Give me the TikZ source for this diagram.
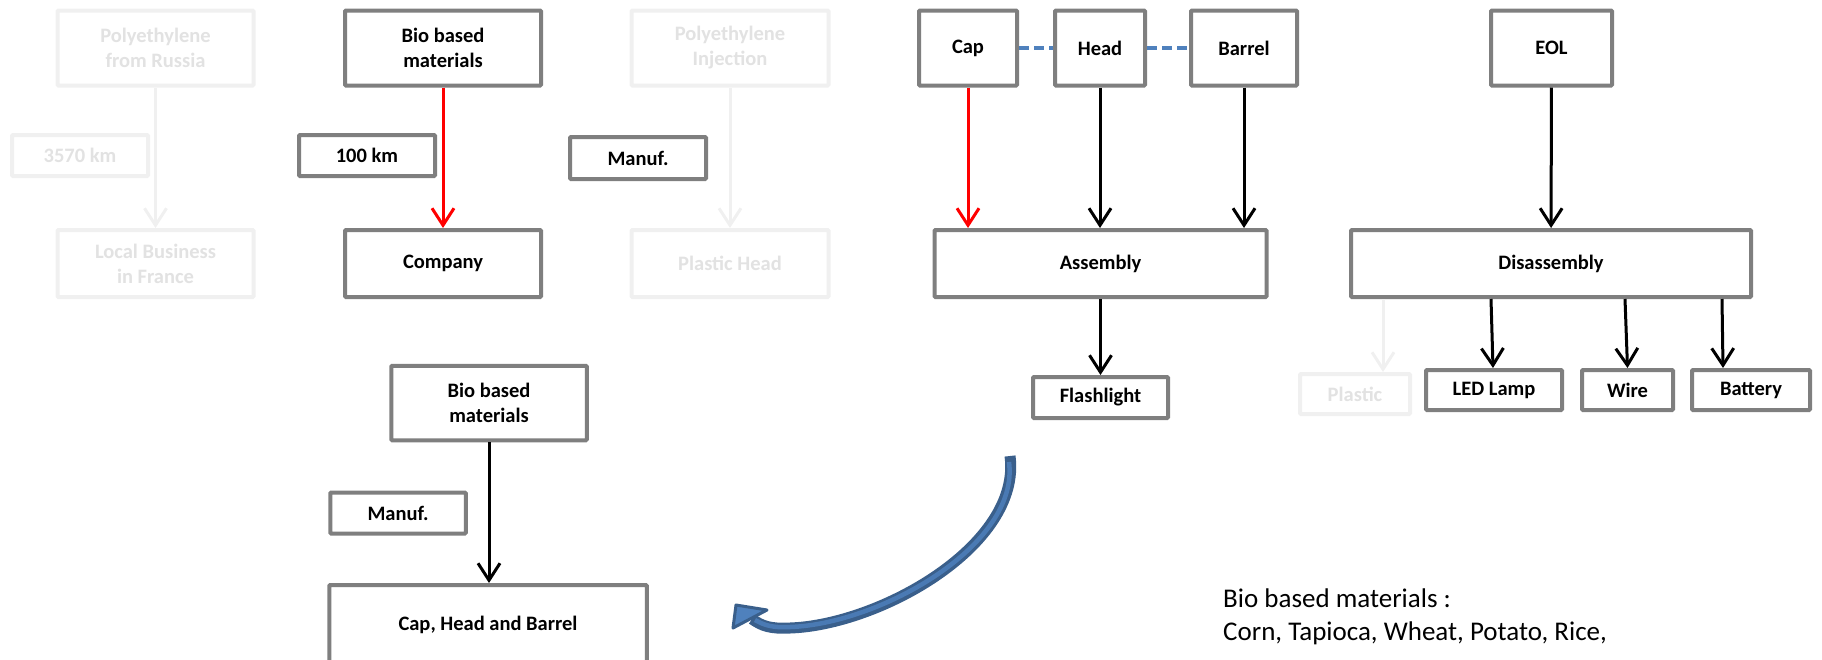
\documentclass[tikz,border=0pt]{standalone}
\usepackage{fontspec}
\setmainfont{Carlito}
\usetikzlibrary{arrows.meta,calc}

\definecolor{boxgray}{HTML}{7F7F7F}
\definecolor{faintline}{HTML}{F0F0F0}
\definecolor{fainttext}{HTML}{E2E2E2}
\definecolor{linkblue}{HTML}{4F81BD}
\definecolor{arcdark}{HTML}{3A5F8B}
\definecolor{arclight}{HTML}{4A7AB4}
\definecolor{flowred}{HTML}{FF0000}

\tikzset{
  box/.style={draw=boxgray, line width=4pt, fill=white, rounded corners=1pt,
    inner sep=0pt, align=center, text=black,
    font=\fontsize{20.5}{25}\selectfont\bfseries},
  faintbox/.style={box, draw=faintline, text=fainttext},
  arr/.style={line width=3pt, draw=black,
    -{Straight Barb[length=17pt,width=22pt,line width=3pt]}},
  redarr/.style={arr, draw=flowred},
  faintarr/.style={arr, draw=faintline},
  link/.style={draw=linkblue, line width=3.3pt, dash pattern=on 10pt off 5pt},
  note/.style={anchor=base west, inner sep=0pt, font=\fontsize{27}{33}\selectfont}
}

\begin{document}
\begin{tikzpicture}[x=1pt, y=-1pt]
\useasboundingbox (0,0) rectangle (1822,659);

% --- polyethylene route (greyed out)
\node[faintbox, minimum width=196, minimum height=75] (rus) at (155.5,48) {Polyethylene\\from Russia};
\node[faintbox, minimum width=136, minimum height=41] (km3570) at (80,155.5) {3570 km};
\node[faintbox, minimum width=196, minimum height=67] (lbf) at (155.5,263.5) {Local Business\\in France};
\draw[faintarr] (rus) -- (lbf);

% --- bio based route
\node[box, minimum width=196, minimum height=75] (bio) at (443,48) {Bio based\\materials};
\node[box, minimum width=136, minimum height=41] (km100) at (367,155.5) {100 km};
\node[box, minimum width=196, minimum height=67] (comp) at (443,263.5) {Company};
\draw[redarr] (bio) -- (comp);

% --- injection (greyed out)
\node[faintbox, minimum width=197, minimum height=75] (inj) at (730,48) {Polyethylene\\Injection};
\node[box, minimum width=136, minimum height=42] (manuf) at (638,158) {Manuf.};
\node[faintbox, minimum width=197, minimum height=67] (phead) at (730,263.5) {Plastic Head};
\draw[faintarr] (inj) -- (phead);

% --- assembly
\node[box, minimum width=98, minimum height=75] (cap) at (968,48) {Cap};
\node[box, minimum width=90, minimum height=75] (head) at (1100,48) {Head};
\node[box, minimum width=106, minimum height=75] (barrel) at (1244,48) {Barrel};
\draw[link] (cap.east) -- (head.west);
\draw[link] (head.east) -- (barrel.west);
\node[box, minimum width=332, minimum height=67] (asm) at (1100.5,263.5) {Assembly};
\node[box, minimum width=135, minimum height=41] (flash) at (1100.5,397.5) {Flashlight};
\draw[redarr] (cap.south) -- (cap.south |- asm.north);
\draw[arr] (head.south) -- (head.south |- asm.north);
\draw[arr] (barrel.south) -- (barrel.south |- asm.north);
\draw[arr] (asm) -- (flash);

% --- end of life
\node[box, minimum width=121, minimum height=75] (eol) at (1551.5,48) {EOL};
\node[box, minimum width=400, minimum height=67] (dis) at (1551,263.5) {Disassembly};
\node[faintbox, minimum width=110, minimum height=40] (plastic) at (1355,394) {Plastic};
\node[box, minimum width=136, minimum height=40] (led) at (1494,390) {LED Lamp};
\node[box, minimum width=91, minimum height=40] (wire) at (1627.5,390) {Wire};
\node[box, minimum width=118, minimum height=40] (bat) at (1751,390) {Battery};
\draw[arr] (eol) -- (dis);
\draw[faintarr] ($(dis.south)+(-168,0)$) -- ($(plastic.north)+(28,0)$);
\draw[arr] ($(dis.south)+(-60,0)$) -- ($(led.north)+(-1,0)$);
\draw[arr] ($(dis.south)+(74,0)$) -- (wire.north);
\draw[arr] ($(dis.south)+(171,0)$) -- ($(bat.north)+(-28,0)$);

% --- bio based manufacturing
\node[box, minimum width=195.5, minimum height=74.5] (bio2) at (489,403) {Bio based\\materials};
\node[box, minimum width=135.5, minimum height=41] (manuf2) at (398,513) {Manuf.};
\node[box, minimum width=317.5, minimum height=80] (chb) at (488,625) {Cap, Head and Barrel};
\draw[arr] (bio2.south) -- (bio2.south |- chb.north);

% --- return arrow
\draw[arcdark, line width=11pt, line cap=butt]
  (1010,456) .. controls (1022,545) and (880,625) .. (790,628)
  .. controls (770,629) and (762,626) .. (752,619);
\draw[arclight, line width=4.5pt, line cap=butt]
  (1009,462) .. controls (1020,545) and (880,624) .. (790,627)
  .. controls (772,628) and (764,625) .. (755,620);
\draw[fill=linkblue, draw=arcdark, line width=3pt, line join=round]
  (736,605) -- (767,610) -- (733,628) -- cycle;

% --- note
\node[note] (notea) at (1223,607) {Bio based materials :};
\node[note] (noteb) at (1223,640) {Corn, Tapioca, Wheat, Potato, Rice,};
\end{tikzpicture}
\end{document}
